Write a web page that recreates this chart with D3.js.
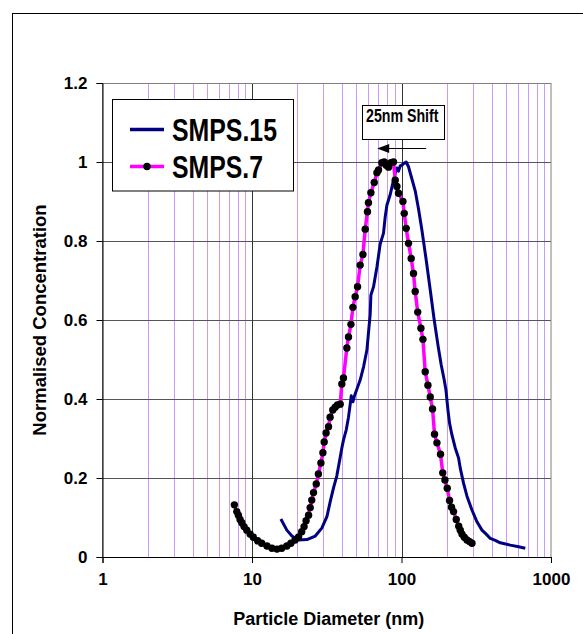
<!DOCTYPE html>
<html>
<head>
<meta charset="utf-8">
<script src="https://cdn.jsdelivr.net/npm/d3@7"></script>
<style>
  body { margin: 0; background: #fff; }
  text { font-family: "Liberation Sans", Arial, sans-serif; font-weight: bold; fill: #000; }
</style>
</head>
<body>
<svg id="chart" width="583" height="634"></svg>
<script>
// Normalised size distributions (particle diameter in nm, normalised concentration)
const smps7Diam = [7.62, 7.91, 8.11, 8.32, 8.55, 8.85, 9.23, 9.71, 10.2, 10.9, 11.6, 12.6, 13.6, 14.7, 15.8, 17.1,
  18.2, 19.4, 20.5, 21.5, 22.3, 23.0, 23.9, 24.5, 25.1, 25.8, 26.9, 27.8, 28.9, 29.8, 30.4, 31.3, 32.5, 33.3, 34.7,
  36.0, 37.3, 38.9, 39.9, 40.9, 43.1, 44.2, 45.9, 47.3, 49.0, 50.8, 52.9, 55.2, 57.2, 59.2, 60.1, 62.4, 65.7, 68.5,
  70.2, 73.9, 76.6, 79.0, 81.9, 84.9, 88.4, 90.8, 93.2, 95.5, 102.2, 104.3, 107.5, 111.4, 116.1, 120.3, 123.5, 128.4,
  134.9, 139.1, 144.1, 150.2, 155.7, 161.3, 166.3, 172.6, 182.4, 188.7, 195.2, 202.2, 209.6, 216.1, 222.9, 232.3,
  241.5, 247.2, 253.8, 262.9, 274.1, 285.3, 296.0];
const smps7Conc = [0.132, 0.115, 0.106, 0.095, 0.087, 0.077, 0.068, 0.058, 0.050, 0.041, 0.035, 0.028, 0.022, 0.020,
  0.022, 0.028, 0.035, 0.043, 0.051, 0.064, 0.077, 0.092, 0.106, 0.125, 0.144, 0.163, 0.185, 0.210, 0.238, 0.264,
  0.291, 0.314, 0.330, 0.354, 0.372, 0.379, 0.385, 0.387, 0.438, 0.453, 0.529, 0.557, 0.589, 0.632, 0.659, 0.684,
  0.739, 0.766, 0.830, 0.874, 0.897, 0.922, 0.948, 0.973, 0.980, 0.998, 1.000, 0.992, 0.987, 0.998, 1.000, 0.954,
  0.938, 0.921, 0.900, 0.870, 0.832, 0.794, 0.756, 0.718, 0.672, 0.620, 0.579, 0.551, 0.469, 0.435, 0.405, 0.375,
  0.311, 0.289, 0.260, 0.213, 0.195, 0.174, 0.143, 0.126, 0.115, 0.095, 0.078, 0.068, 0.058, 0.050, 0.043, 0.039,
  0.035];

const smps15Diam = [15.6, 17.1, 18.5, 20.5, 23.3, 26.5, 29.3, 31.7, 33.3, 35.1, 36.9, 38.5, 39.9, 40.9, 42.7, 44.2,
  45.4, 46.1, 47.3, 48.2, 50.3, 52.9, 55.7, 58.7, 60.1, 61.7, 62.4, 65.0, 68.5, 72.0, 75.8, 77.8, 79.9, 84.0, 87.6,
  90.8, 93.2, 95.5, 98.0, 100.6, 103.1, 107.5, 111.4, 117.4, 123.5, 130.0, 136.9, 146.3, 155.7, 165.5, 176.1, 184.4,
  193.1, 198.3, 204.5, 209.6, 217.5, 228.8, 240.7, 247.2, 260.0, 274.1, 296.0, 319.7, 345.3, 372.8, 392.5, 423.9,
  457.6, 534.0, 606.9, 673.0];
const smps15Conc = [0.096, 0.068, 0.053, 0.043, 0.044, 0.053, 0.073, 0.102, 0.139, 0.175, 0.205, 0.243, 0.276,
  0.296, 0.322, 0.354, 0.387, 0.408, 0.393, 0.405, 0.425, 0.448, 0.481, 0.524, 0.567, 0.613, 0.663, 0.684, 0.734,
  0.792, 0.820, 0.861, 0.891, 0.917, 0.947, 0.972, 0.985, 0.977, 0.990, 0.992, 0.996, 1.000, 0.988, 0.957, 0.927,
  0.881, 0.828, 0.752, 0.676, 0.600, 0.532, 0.486, 0.448, 0.423, 0.372, 0.339, 0.309, 0.276, 0.251, 0.225, 0.187,
  0.154, 0.119, 0.089, 0.068, 0.056, 0.047, 0.042, 0.036, 0.030, 0.026, 0.022];

const seriesNames = ["SMPS.15", "SMPS.7"];
const xTickValues = [1, 10, 100, 1000];
const yTickValues = [0, 0.2, 0.4, 0.6, 0.8, 1, 1.2];
const xTitle = "Particle Diameter (nm)";
const yTitle = "Normalised Concentration";
const shiftLabel = "25nm Shift";
const shiftFrom = 107.5, shiftTo = 76.6;

(function draw() {
  const svg = d3.select("#chart");
  const pLeft = 102.5, pRight = 551, pTop = 83, pBottom = 557;

  const x = d3.scaleLog().domain([1, 1000]).range([pLeft, pRight]);
  const y = d3.scaleLinear().domain([0, 1.2]).range([pBottom, pTop]);

  // Outer chart frame
  svg.append("rect").attr("x", 12.5).attr("y", 13.5).attr("width", 700).attr("height", 700)
    .attr("fill", "#fff").attr("stroke", "#000").attr("stroke-width", 1);

  const grid = svg.append("g");
  // Minor logarithmic gridlines
  const minor = x.ticks().filter(v => !xTickValues.includes(v));
  grid.selectAll(".minor").data(minor).join("line")
    .attr("x1", d => Math.round(x(d)) + 0.5).attr("x2", d => Math.round(x(d)) + 0.5)
    .attr("y1", pTop).attr("y2", pBottom)
    .attr("stroke", "#cc99ff").attr("stroke-width", 1);
  // Horizontal gridlines
  grid.selectAll(".hmaj").data(yTickValues.slice(1)).join("line")
    .attr("x1", pLeft).attr("x2", pRight)
    .attr("y1", d => Math.round(y(d)) + 0.5).attr("y2", d => Math.round(y(d)) + 0.5)
    .attr("stroke", "#555").attr("stroke-width", 1);
  // Major decade gridlines
  grid.selectAll(".vmaj").data(xTickValues.slice(1, -1)).join("line")
    .attr("x1", d => Math.round(x(d)) + 0.5).attr("x2", d => Math.round(x(d)) + 0.5)
    .attr("y1", pTop).attr("y2", pBottom)
    .attr("stroke", "#333").attr("stroke-width", 1);
  // Plot border
  svg.append("rect").attr("x", pLeft).attr("y", pTop + 0.5).attr("width", pRight - pLeft).attr("height", pBottom - pTop)
    .attr("fill", "none").attr("stroke", "#808080").attr("stroke-width", 1);

  // Axes
  const xAxis = svg.append("g").attr("transform", `translate(0,${pBottom})`)
    .call(d3.axisBottom(x).tickValues(xTickValues).tickFormat(d3.format("d")).tickSize(6).tickPadding(6));
  const yAxis = svg.append("g").attr("transform", `translate(${pLeft},0)`)
    .call(d3.axisLeft(y).tickValues(yTickValues)
      .tickFormat(d => d === 0 || d === 1 ? String(d) : d.toFixed(1)).tickSize(6).tickPadding(9));
  [xAxis, yAxis].forEach(a => {
    a.select(".domain").attr("stroke", "#000");
    a.selectAll(".tick line").attr("stroke", "#000");
    a.selectAll("text").attr("font-size", 17)
      .attr("font-family", "Liberation Sans, Arial, sans-serif").attr("font-weight", "bold");
  });
  xAxis.selectAll("text").attr("dy", "0.95em");

  // Axis titles
  svg.append("text").attr("x", (pLeft + pRight) / 2 + 2).attr("y", 625).attr("text-anchor", "middle")
    .attr("font-size", 18).text(xTitle);
  svg.append("text").attr("transform", `translate(46,${(pTop + pBottom) / 2}) rotate(-90)`)
    .attr("text-anchor", "middle").attr("font-size", 18.5).text(yTitle);

  // Series
  const line = d3.line().x(d => x(d[0])).y(d => y(d[1]));
  const s15 = smps15Diam.map((d, i) => [d, smps15Conc[i]]);
  const s7 = smps7Diam.map((d, i) => [d, smps7Conc[i]]);

  svg.append("path").datum(s15).attr("d", line)
    .attr("fill", "none").attr("stroke", "#000080").attr("stroke-width", 3).attr("stroke-linejoin", "round");
  svg.append("path").datum(s7).attr("d", line)
    .attr("fill", "none").attr("stroke", "#ff00ff").attr("stroke-width", 3.5).attr("stroke-linejoin", "round");
  svg.append("g").selectAll("circle").data(s7).join("circle")
    .attr("cx", d => x(d[0])).attr("cy", d => y(d[1])).attr("r", 3.7).attr("fill", "#000");

  // Legend
  const lg = svg.append("g");
  lg.append("rect").attr("x", 112.5).attr("y", 99.5).attr("width", 181).attr("height", 91.5)
    .attr("fill", "#fff").attr("stroke", "#000").attr("stroke-width", 1);
  const legendRows = [
    { name: seriesNames[0], y: 129.5, color: "#000080", dot: false, len: 105 },
    { name: seriesNames[1], y: 166.5, color: "#ff00ff", dot: true, len: 91 }
  ];
  legendRows.forEach(r => {
    lg.append("line").attr("x1", 130).attr("x2", 164).attr("y1", r.y).attr("y2", r.y)
      .attr("stroke", r.color).attr("stroke-width", 3.5);
    if (r.dot) lg.append("circle").attr("cx", 147).attr("cy", r.y).attr("r", 3.7).attr("fill", "#000");
    lg.append("text").attr("x", 172).attr("y", r.y + 11.2).attr("font-size", 31)
      .attr("textLength", r.len).attr("lengthAdjust", "spacingAndGlyphs").text(r.name);
  });

  // Shift annotation
  const an = svg.append("g");
  an.append("rect").attr("x", 362.5).attr("y", 105.5).attr("width", 82).attr("height", 34)
    .attr("fill", "#fff").attr("stroke", "#000").attr("stroke-width", 1);
  an.append("text").attr("x", 366).attr("y", 122).attr("font-size", 17.5)
    .attr("textLength", 72.5).attr("lengthAdjust", "spacingAndGlyphs").text(shiftLabel);
  const ay = 148.5;
  const tipX = x(shiftTo) - 7, tailX = x(shiftFrom) + 20;
  an.append("line").attr("x1", tailX).attr("x2", tipX + 10).attr("y1", ay).attr("y2", ay)
    .attr("stroke", "#000").attr("stroke-width", 1);
  an.append("path").attr("d", `M${tipX},${ay} L${tipX + 12},${ay - 4.5} L${tipX + 12},${ay + 4.5} Z`)
    .attr("fill", "#000");
})();
</script>
</body>
</html>
